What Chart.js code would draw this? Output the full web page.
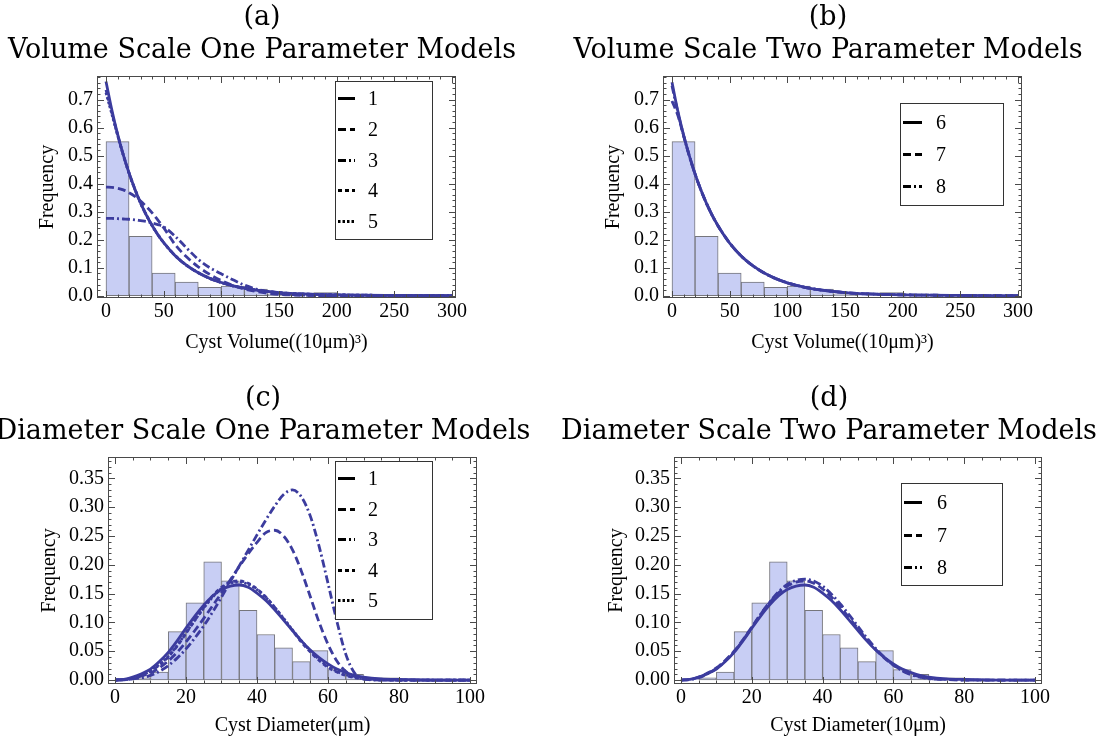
<!DOCTYPE html>
<html>
<head>
<meta charset="utf-8">
<script src="https://cdn.jsdelivr.net/npm/chart.js@4.4.1/dist/chart.umd.min.js"></script>
<style>
html,body{margin:0;padding:0;background:#fff;}
body{width:1107px;height:742px;position:relative;overflow:hidden;}
canvas{position:absolute;}
</style>
</head>
<body>
<canvas id="pa" width="564" height="371" style="left:-20px;top:0px;width:564px;height:371px"></canvas>
<canvas id="pb" width="564" height="371" style="left:546px;top:0px;width:564px;height:371px"></canvas>
<canvas id="pc" width="566" height="361" style="left:-20px;top:381px;width:566px;height:361px"></canvas>
<canvas id="pd" width="566" height="361" style="left:546px;top:381px;width:566px;height:361px"></canvas>
<script>
// ---------------- data ----------------
const volBinStart = [0,20,40,60,80,100,120,140,160,180];
const volBinWidth = 20;
const volFreq = [0.550,0.212,0.081,0.049,0.030,0.034,0.024,0.006,0.001,0.011];

const diaBinStart = [5,10,15,20,25,30,35,40,45,50,55,60,65,70,75];
const diaBinWidth = 5;
const diaFreq = [0.004,0.014,0.084,0.134,0.205,0.172,0.121,0.079,0.056,0.032,0.051,0.018,0.010,0.004,0.004];

const volX = [0,5,10,15,20,25,30,35,40,45,50,60,70,80,90,100,110,120,130,140,150,160,180,200,250,300];
const volModel1 = [0.765,0.665,0.578,0.503,0.438,0.381,0.331,0.288,0.251,0.218,0.190,0.143,0.108,0.082,0.062,0.047,0.035,0.027,0.020,0.015,0.011,0.008,0.005,0.003,0.001,0.000];
const volModel2 = [0.388,0.387,0.384,0.378,0.368,0.355,0.338,0.318,0.296,0.270,0.243,0.182,0.138,0.103,0.076,0.054,0.037,0.024,0.015,0.009,0.005,0.003,0.001,0.000,0.000,0.000];
const volModel3 = [0.276,0.276,0.275,0.274,0.273,0.271,0.268,0.265,0.260,0.254,0.246,0.212,0.170,0.130,0.100,0.078,0.057,0.038,0.024,0.014,0.008,0.004,0.001,0.000,0.000,0.000];
const volModel4 = [0.735,0.655,0.576,0.503,0.438,0.381,0.331,0.288,0.251,0.218,0.190,0.143,0.108,0.082,0.062,0.047,0.035,0.027,0.020,0.015,0.011,0.008,0.005,0.003,0.001,0.000];
const volModel5 = [0.725,0.650,0.574,0.502,0.437,0.380,0.330,0.288,0.250,0.218,0.189,0.143,0.108,0.082,0.062,0.047,0.035,0.027,0.020,0.015,0.011,0.008,0.005,0.003,0.001,0.000];
const volModel6 = [0.762,0.660,0.574,0.500,0.435,0.378,0.329,0.286,0.249,0.217,0.188,0.142,0.107,0.081,0.061,0.046,0.035,0.026,0.020,0.015,0.011,0.008,0.005,0.003,0.001,0.000];
const volModel7 = [0.695,0.645,0.572,0.500,0.435,0.378,0.329,0.286,0.249,0.217,0.188,0.142,0.107,0.081,0.061,0.046,0.035,0.026,0.020,0.015,0.011,0.008,0.005,0.003,0.001,0.000];
const volModel8 = [0.750,0.656,0.573,0.499,0.434,0.378,0.329,0.286,0.249,0.217,0.188,0.142,0.107,0.081,0.061,0.046,0.035,0.026,0.020,0.015,0.011,0.008,0.005,0.003,0.001,0.000];

const diaX = [0,2.5,5,7.5,10,12.5,15,17.5,20,22.5,25,27.5,30,32.5,35,37.5,40,42.5,45,47.5,50,52.5,55,57.5,60,62.5,65,67.5,70,75,80,90,100];
const diaModel1 = [0,0.001,0.005,0.011,0.019,0.032,0.048,0.068,0.090,0.111,0.130,0.146,0.157,0.163,0.165,0.161,0.151,0.138,0.122,0.104,0.086,0.068,0.052,0.039,0.028,0.019,0.013,0.008,0.005,0.002,0.001,0,0];
const diaModel2 = [0,0.001,0.003,0.007,0.012,0.021,0.033,0.048,0.066,0.086,0.107,0.129,0.151,0.174,0.197,0.219,0.239,0.256,0.260,0.250,0.226,0.189,0.145,0.100,0.062,0.033,0.015,0.006,0.002,0,0,0,0];
const diaModel3 = [0,0.0005,0.002,0.004,0.008,0.015,0.025,0.038,0.054,0.073,0.094,0.118,0.144,0.171,0.198,0.225,0.252,0.278,0.302,0.322,0.330,0.318,0.285,0.232,0.168,0.102,0.045,0.012,0.002,0,0,0,0];
const diaModel4 = [0,0.0005,0.003,0.008,0.015,0.026,0.040,0.059,0.081,0.104,0.126,0.146,0.161,0.170,0.172,0.168,0.158,0.144,0.126,0.106,0.086,0.066,0.049,0.034,0.022,0.014,0.008,0.004,0.002,0.0005,0,0,0];
const diaModel5 = [0,0.0005,0.003,0.008,0.016,0.027,0.041,0.060,0.082,0.104,0.125,0.144,0.159,0.168,0.170,0.166,0.157,0.143,0.126,0.107,0.087,0.068,0.051,0.036,0.024,0.015,0.009,0.005,0.002,0.001,0,0,0];
const diaModel6 = [0,0.001,0.005,0.011,0.019,0.032,0.048,0.068,0.090,0.111,0.130,0.146,0.157,0.163,0.165,0.161,0.151,0.138,0.122,0.104,0.086,0.068,0.052,0.039,0.028,0.019,0.013,0.008,0.005,0.002,0.001,0,0];
const diaModel7 = [0,0.001,0.005,0.012,0.021,0.034,0.050,0.070,0.092,0.114,0.134,0.151,0.163,0.170,0.172,0.168,0.158,0.144,0.127,0.108,0.089,0.070,0.053,0.038,0.026,0.017,0.010,0.006,0.003,0.001,0,0,0];
const diaModel8 = [0,0.001,0.004,0.011,0.020,0.033,0.049,0.069,0.091,0.114,0.135,0.153,0.166,0.173,0.175,0.172,0.163,0.149,0.132,0.113,0.093,0.073,0.055,0.039,0.026,0.016,0.009,0.005,0.002,0.001,0,0,0];

const volXTicks = [0,50,100,150,200,250,300];
const volXLabels = ['0','50','100','150','200','250','300'];
const volYTicks = [0,0.1,0.2,0.3,0.4,0.5,0.6,0.7];
const volYLabels = ['0.0','0.1','0.2','0.3','0.4','0.5','0.6','0.7'];
const diaXTicks = [0,20,40,60,80,100];
const diaXLabels = ['0','20','40','60','80','100'];
const diaYTicks = [0,0.05,0.10,0.15,0.20,0.25,0.30,0.35];
const diaYLabels = ['0.00','0.05','0.10','0.15','0.20','0.25','0.30','0.35'];

const oneParamNames = ['1','2','3','4','5'];
const twoParamNames = ['6','7','8'];

// ---------------- styles ----------------
const CURVE = 'rgb(60,60,158)';
const BAR_FILL = 'rgb(200,206,244)';
const BAR_EDGE = 'rgb(118,118,124)';
const DASHES = { '1': [], '2': [8,4], '3': [8,3,2,3], '4': [4,3], '5': [2.5,2], '6': [], '7': [8,4], '8': [8,3,2,3] };
const SERIF = '"Liberation Serif", "Times New Roman", serif';
const TITLE_FONT = '"DejaVu Serif", serif';

// ---------------- plugins ----------------
const frameTicks = {
  id: 'frameTicks',
  afterDatasetsDraw(chart, args, o) {
    const {ctx, chartArea: a} = chart;
    const xs = chart.scales.x, ys = chart.scales.y;
    ctx.save();
    ctx.strokeStyle = '#4a4a4a';
    ctx.lineWidth = 1;
    ctx.beginPath();
    const drawX = (v, len) => {
      const p = Math.round(xs.getPixelForValue(v)) + 0.5;
      ctx.moveTo(p, a.bottom); ctx.lineTo(p, a.bottom - len);
      ctx.moveTo(p, a.top); ctx.lineTo(p, a.top + len);
    };
    const drawY = (v, len) => {
      const p = Math.round(ys.getPixelForValue(v)) + 0.5;
      ctx.moveTo(a.left, p); ctx.lineTo(a.left + len, p);
      ctx.moveTo(a.right, p); ctx.lineTo(a.right - len, p);
    };
    for (let k = 0; k * o.minorX <= xs.max + 1e-9; k++) drawX(k * o.minorX, 3.5);
    for (let k = 0; k * o.minorY <= ys.max + 1e-9; k++) drawY(k * o.minorY, 3.5);
    xs.ticks.forEach(t => drawX(t.value, 7));
    ys.ticks.forEach(t => drawY(t.value, 7));
    ctx.stroke();
    ctx.strokeRect(a.left + 0.5, a.top + 0.5, a.right - a.left - 1, a.bottom - a.top - 1);
    ctx.restore();
  }
};

const boxLegend = {
  id: 'boxLegend',
  afterDraw(chart, args, o) {
    const {ctx, chartArea: a} = chart;
    const x0 = a.left + o.dx, y0 = a.top + o.dy;
    ctx.save();
    ctx.fillStyle = '#fff';
    ctx.fillRect(x0, y0, o.w, o.h);
    ctx.strokeStyle = '#333';
    ctx.lineWidth = 1;
    ctx.strokeRect(x0 + 0.5, y0 + 0.5, o.w, o.h);
    const lines = chart.data.datasets.filter(d => d.type === 'line');
    lines.forEach((d, i) => {
      const y = Math.round(y0 + o.first + i * o.gap) + 0.5;
      ctx.setLineDash(d.borderDash || []);
      ctx.strokeStyle = '#000';
      ctx.lineWidth = 3;
      ctx.beginPath();
      ctx.moveTo(x0 + 3, y);
      ctx.lineTo(x0 + 3 + o.len, y);
      ctx.stroke();
      ctx.setLineDash([]);
      ctx.fillStyle = '#000';
      ctx.font = '20px ' + SERIF;
      ctx.textAlign = 'center';
      ctx.textBaseline = 'middle';
      ctx.fillText(d.label, x0 + o.labelX, y + 1);
    });
    ctx.restore();
  }
};

// ---------------- builder ----------------
function makePanel(canvasId, p) {
  const bars = {
    type: 'bar',
    label: 'hist',
    data: p.binStart.map((s, i) => ({x: s + p.binWidth / 2, y: p.freq[i]})),
    backgroundColor: BAR_FILL,
    borderColor: BAR_EDGE,
    borderWidth: 1,
    borderSkipped: false,
    barPercentage: 1,
    categoryPercentage: 1,
    order: 20
  };
  const curves = p.models.map((m, i) => ({
    type: 'line',
    label: p.names[i],
    data: p.xs.map((x, j) => ({x: x, y: m[j]})),
    borderColor: CURVE,
    borderWidth: 2.8,
    borderDash: DASHES[p.names[i]],
    pointRadius: 0,
    fill: false,
    cubicInterpolationMode: 'monotone',
    order: 10 - i
  }));
  return new Chart(document.getElementById(canvasId), {
    type: 'bar',
    data: { datasets: [bars].concat(curves) },
    options: {
      responsive: false,
      animation: false,
      devicePixelRatio: 1,
      events: [],
      layout: { padding: 0 },
      plugins: {
        legend: { display: false },
        tooltip: { enabled: false },
        title: {
          display: true,
          text: p.title,
          color: '#000',
          font: { family: TITLE_FONT, size: 27, weight: 'normal', lineHeight: 1.2 },
          padding: { top: 2, bottom: 9.2 }
        },
        frameTicks: { minorX: p.minorX, minorY: p.minorY },
        boxLegend: p.legend
      },
      scales: {
        x: {
          type: 'linear',
          min: p.xMin, max: p.xMax,
          offset: false,
          grid: { display: false, drawTicks: false },
          border: { display: false },
          afterBuildTicks: s => { s.ticks = p.xTicks.map(v => ({value: v})); },
          afterFit: s => { s.height = p.xAxisHeight; },
          ticks: {
            padding: 2, color: '#000', autoSkip: false, maxRotation: 0,
            font: { family: SERIF, size: 20 },
            callback: (v, i) => p.xLabels[i]
          },
          title: {
            display: true, text: p.xTitle, color: '#000',
            font: { family: SERIF, size: 20 },
            padding: { top: 0, bottom: p.xTitlePad }
          }
        },
        y: {
          type: 'linear',
          min: p.yMin, max: p.yMax,
          grid: { display: false, drawTicks: false },
          border: { display: false },
          afterBuildTicks: s => { s.ticks = p.yTicks.map(v => ({value: v})); },
          afterFit: s => { s.width = p.yAxisWidth; },
          ticks: {
            padding: 4, color: '#000',
            font: { family: SERIF, size: 20 },
            callback: (v, i) => p.yLabels[i]
          },
          title: {
            display: true, text: 'Frequency', color: '#000',
            font: { family: SERIF, size: 20 },
            padding: { top: p.yTitlePad, bottom: 0 }
          }
        },
        spacer: {
          type: 'linear',
          position: 'right',
          display: true,
          grid: { display: false, drawTicks: false },
          border: { display: false },
          ticks: { display: false },
          afterFit: s => { s.width = p.padRight; }
        }
      }
    },
    plugins: [frameTicks, boxLegend]
  });
}

const volCommon = {
  binStart: volBinStart, binWidth: volBinWidth, freq: volFreq, xs: volX,
  xMin: -7.8, xMax: 303.5, yMin: -0.0082, yMax: 0.7846,
  xTicks: volXTicks, xLabels: volXLabels, yTicks: volYTicks, yLabels: volYLabels,
  minorX: 10, minorY: 0.02,
  xTitle: 'Cyst Volume((10\u03bcm)\u00b3)',
  xAxisHeight: 73, yAxisWidth: 117, padRight: 88, xTitlePad: 16, yTitlePad: 56
};
const diaCommon = {
  binStart: diaBinStart, binWidth: diaBinWidth, freq: diaFreq, xs: diaX,
  xMin: -1.97, xMax: 101.97, yMin: -0.0069, yMax: 0.3872,
  xTicks: diaXTicks, xLabels: diaXLabels, yTicks: diaYTicks, yLabels: diaYLabels,
  minorX: 5, minorY: 0.01,
  xAxisHeight: 58, yAxisWidth: 128, xTitlePad: 4
};

makePanel('pa', Object.assign({}, volCommon, {
  title: ['(a)', 'Volume Scale One Parameter Models'],
  models: [volModel1, volModel2, volModel3, volModel4, volModel5],
  names: oneParamNames,
  legend: { dx: 238, dy: 5, w: 97, h: 158, first: 17, gap: 30.8, len: 17, labelX: 38 }
}));
makePanel('pb', Object.assign({}, volCommon, {
  title: ['(b)', 'Volume Scale Two Parameter Models'],
  models: [volModel6, volModel7, volModel8],
  names: twoParamNames,
  legend: { dx: 237, dy: 27, w: 103, h: 102, first: 19, gap: 31.8, len: 19, labelX: 41 }
}));
makePanel('pc', Object.assign({}, diaCommon, {
  title: ['(c)', 'Diameter Scale One Parameter Models'],
  models: [diaModel1, diaModel2, diaModel3, diaModel4, diaModel5],
  names: oneParamNames,
  xTitle: 'Cyst Diameter(\u03bcm)',
  padRight: 69, yTitlePad: 58,
  legend: { dx: 227, dy: 4, w: 97, h: 158, first: 17, gap: 30.6, len: 17, labelX: 38 }
}));
makePanel('pd', Object.assign({}, diaCommon, {
  title: ['(d)', 'Diameter Scale Two Parameter Models'],
  models: [diaModel6, diaModel7, diaModel8],
  names: twoParamNames,
  xTitle: 'Cyst Diameter(10\u03bcm)',
  padRight: 70, yTitlePad: 59,
  legend: { dx: 227, dy: 26, w: 101, h: 102, first: 19, gap: 32.5, len: 18, labelX: 41 }
}));
</script>
</body>
</html>
